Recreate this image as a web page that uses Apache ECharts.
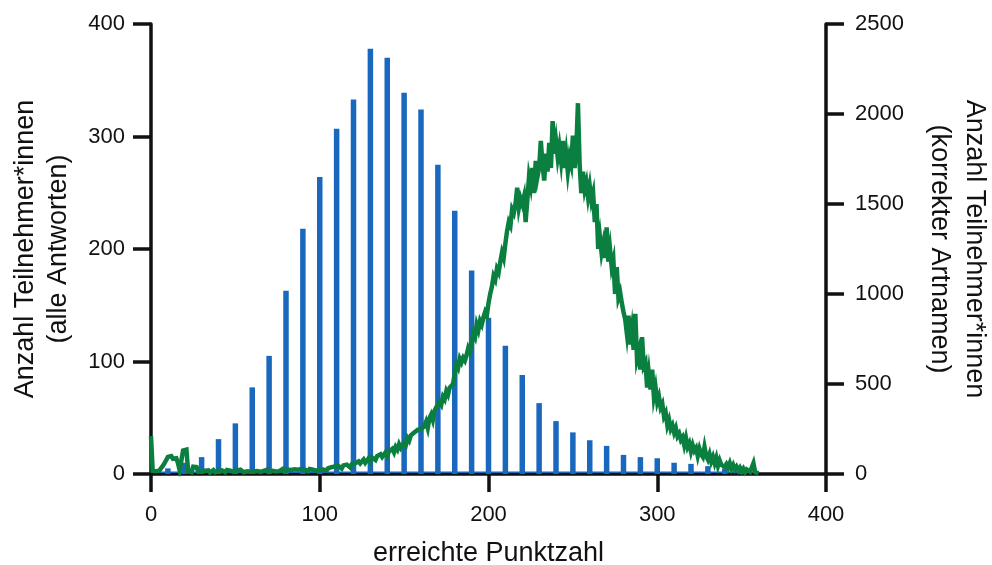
<!DOCTYPE html>
<html>
<head>
<meta charset="utf-8">
<script src="https://cdn.jsdelivr.net/npm/echarts@6/dist/echarts.min.js"></script>
<style>
  html, body { margin: 0; padding: 0; background: #ffffff; overflow: hidden; }
  #chart { width: 992px; height: 565px; }
</style>
</head>
<body>
<div id="chart"></div>
<script>
// Score distribution: all answers (bars, left axis) vs. correct species names (line, right axis)

// Points reached (multiples of ten) and number of participants, all answers
const barScores = [0, 10, 20, 30, 40, 50, 60, 70, 80, 90, 100, 110, 120, 130, 140, 150, 160, 170,
  180, 190, 200, 210, 220, 230, 240, 250, 260, 270, 280, 290, 300, 310, 320, 330, 340, 350];
const barCounts = [0, 5, 10, 15, 31, 45, 77, 105, 163, 218, 264, 307, 333, 378, 370, 339, 324, 275,
  234, 181, 139, 114, 88, 63, 47, 37, 30, 25, 17, 15, 14, 10, 9, 7, 5, 3];

// Small counts between the multiples of ten
const floorScores = [0, 355];
const floorCount = 1.5;

// Participants per point score 0..360, correct species names
const lineCounts = [
  210, 18, 8, 15, 12, 20, 10, 45, 60, 55,
  95, 90, 100, 85, 95, 88, 60, 20, 25, 130,
  125, 135, 15, 20, 10, 40, 45, 38, 12, 20,
  15, 10, 18, 12, 20, 8, 15, 22, 10, 14,
  18, 12, 20, 16, 10, 22, 14, 18, 25, 12,
  16, 20, 12, 24, 18, 10, 20, 15, 22, 12,
  18, 14, 24, 16, 20, 12, 22, 18, 15, 25,
  12, 20, 18, 26, 14, 22, 16, 20, 28, 15,
  20, 24, 14, 22, 18, 26, 16, 24, 20, 28,
  18, 25, 22, 15, 28, 20, 24, 30, 18, 26,
  22, 30, 25, 35, 20, 32, 28, 38, 30, 42,
  35, 45, 38, 30, 48, 40, 52, 42, 36, 55,
  48, 60, 52, 70, 58, 65, 80, 62, 75, 88,
  70, 92, 85, 78, 100, 90, 110, 95, 105, 120,
  100, 125, 115, 140, 120, 150, 135, 165, 145, 160,
  175, 160, 200, 185, 215, 205, 230, 220, 245, 235,
  250, 240, 265, 290, 255, 310, 330, 300, 350, 370,
  360, 400, 385, 430, 415, 460, 440, 480, 470, 500,
  560, 610, 590, 640, 620, 645, 630, 660, 700, 680,
  720, 780, 760, 830, 800, 850, 830, 870, 900, 880,
  950, 1000, 1040, 1100, 1080, 1140, 1120, 1180, 1230, 1200,
  1280, 1350, 1400, 1380, 1470, 1450, 1500, 1590, 1480, 1530,
  1500, 1540, 1400, 1520, 1650, 1600, 1700, 1560, 1740, 1650,
  1700, 1850, 1720, 1630, 1780, 1680, 1840, 1700, 1960, 1780,
  1850, 1760, 1820, 1740, 1850, 1700, 1780, 1680, 1760, 1720,
  1880, 1700, 1800, 2060, 1720, 1560, 1680, 1580, 1620, 1540,
  1600, 1520, 1560, 1400, 1500, 1250, 1320, 1230, 1280, 1200,
  1370, 1180, 1250, 1150, 1190, 1000, 1150, 980, 1010, 950,
  900, 860, 780, 880, 720, 800, 690, 890, 640, 680,
  580, 760, 600, 620, 480, 560, 470, 580, 430, 480,
  400, 430, 370, 390, 320, 340, 270, 300, 250, 270,
  230, 255, 210, 225, 190, 205, 160, 200, 150, 170,
  125, 160, 130, 145, 100, 140, 110, 95, 150, 100,
  80, 110, 70, 95, 60, 90, 45, 75, 50, 60,
  40, 55, 35, 60, 30, 50, 25, 40, 20, 35,
  15, 30, 10, 25, 20, 12, 18, 60, 10, 5,
  3
];

const xTicks = [0, 100, 200, 300, 400];
const leftTicks = [0, 100, 200, 300, 400];
const rightTicks = [0, 500, 1000, 1500, 2000, 2500];

const FONT = 'Liberation Sans';
const BLUE = '#1a68bd';
const GREEN = '#0b7f3f';
const INK = '#111111';

const axisLineStyle = { show: true, lineStyle: { color: INK, width: 3.5 } };
const axisTickStyle = { show: true, length: 18, lineStyle: { color: INK, width: 3.5 } };
const labelStyle = { color: INK, fontFamily: FONT, fontSize: 22 };

const chart = echarts.init(document.getElementById('chart'), null, { renderer: 'canvas' });

chart.setOption({
  backgroundColor: '#ffffff',
  animation: false,
  grid: { left: 151, right: 166, top: 24, bottom: 91, containLabel: false, outerBoundsMode: 'none' },
  xAxis: {
    type: 'value',
    min: xTicks[0],
    max: xTicks[xTicks.length - 1],
    interval: xTicks[1] - xTicks[0],
    name: 'erreichte Punktzahl',
    nameLocation: 'middle',
    nameGap: 66,
    nameTextStyle: { color: INK, fontFamily: FONT, fontSize: 27 },
    axisLine: axisLineStyle,
    axisTick: axisTickStyle,
    axisLabel: Object.assign({ margin: 30 }, labelStyle),
    splitLine: { show: false }
  },
  yAxis: [
    {
      type: 'value',
      position: 'left',
      min: leftTicks[0],
      max: leftTicks[leftTicks.length - 1],
      interval: leftTicks[1] - leftTicks[0],
      name: 'Anzahl Teilnehmer*innen\n(alle Antworten)',
      nameLocation: 'middle',
      nameGap: 76,
      nameTextStyle: { color: INK, fontFamily: FONT, fontSize: 27, lineHeight: 33 },
      axisLine: axisLineStyle,
      axisTick: axisTickStyle,
      axisLabel: Object.assign({ margin: 26 }, labelStyle),
      splitLine: { show: false }
    },
    {
      type: 'value',
      position: 'right',
      min: rightTicks[0],
      max: rightTicks[rightTicks.length - 1],
      interval: rightTicks[1] - rightTicks[0],
      name: 'Anzahl Teilnehmer*innen\n(korrekter Artnamen)',
      nameLocation: 'middle',
      nameRotate: -90,
      nameGap: 96,
      nameTextStyle: { color: INK, fontFamily: FONT, fontSize: 27, lineHeight: 35 },
      axisLine: axisLineStyle,
      axisTick: axisTickStyle,
      axisLabel: Object.assign({ margin: 29, formatter: v => String(v) }, labelStyle),
      splitLine: { show: false }
    }
  ],
  series: [
    {
      name: 'floor',
      type: 'line',
      yAxisIndex: 0,
      data: floorScores.map(s => [s, floorCount]),
      symbol: 'none',
      lineStyle: { color: BLUE, width: 1.5 },
      z: 2
    },
    {
      name: 'alle Antworten',
      type: 'bar',
      yAxisIndex: 0,
      data: barScores.map((s, i) => [s, barCounts[i]]),
      barWidth: 5.5,
      itemStyle: { color: BLUE },
      z: 3
    },
    {
      name: 'korrekte Artnamen',
      type: 'line',
      yAxisIndex: 1,
      data: lineCounts.map((v, i) => [i, v]),
      symbol: 'none',
      lineStyle: { color: GREEN, width: 4.5, join: 'miter' },
      z: 4
    }
  ]
});
</script>
</body>
</html>
